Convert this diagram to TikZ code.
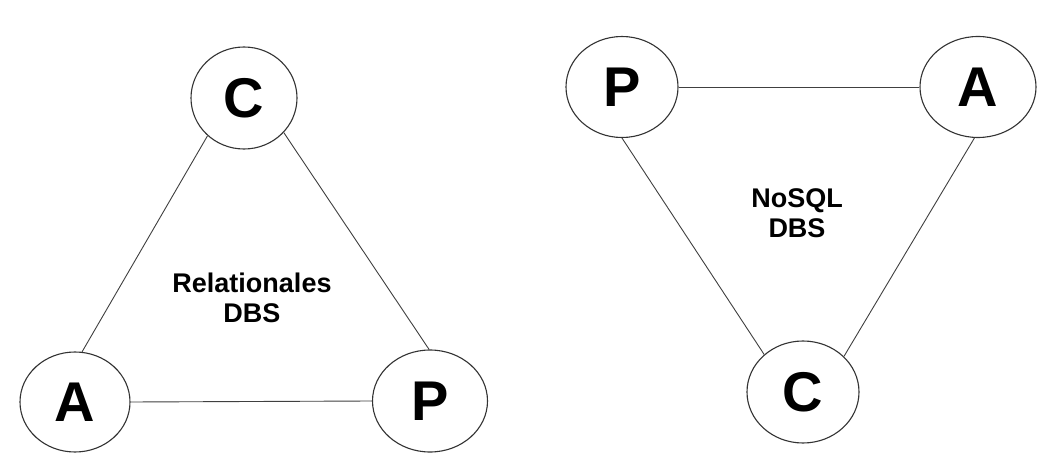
\documentclass[tikz,border=0pt]{standalone}
\usepackage{fontspec}
\setmainfont{Liberation Sans}
\usetikzlibrary{shapes.geometric}
\begin{document}
\begin{tikzpicture}[x=1pt,y=1pt,
  letter/.style={ellipse,draw=black!80,line width=1.1pt,fill=white,inner sep=0pt,
    minimum width=112pt,minimum height=101pt,font=\fontsize{56}{60}\selectfont\bfseries},
  edge/.style={draw=black!75,line width=0.9pt},
  label/.style={align=center,font=\fontsize{27}{30}\selectfont\bfseries}]
\useasboundingbox[fill=white] (0,0) rectangle (1042,-457);
% left triangle
\node[letter,minimum width=106pt,minimum height=102pt] (c1) at (244,-98) {C};
\node[letter,minimum width=110pt,minimum height=100pt] (a1) at (75,-402) {A};
\node[letter,minimum width=115pt,minimum height=102pt] (p1) at (430,-401) {P};
\node[label] (t1) at (252,-298) {Relationales\\DBS};
\draw[edge] (c1.226) -- (a1.82);
\draw[edge] (c1.319) -- (p1.91);
\draw[edge] (a1.east) -- (p1.west);
% right triangle
\node[letter] (p2) at (622,-87) {P};
\node[letter,minimum width=116pt] (a2) at (978,-87) {A};
\node[letter,minimum height=102pt] (c2) at (803,-392) {C};
\node[label] (t2) at (797,-213) {NoSQL\\DBS};
\draw[edge] (p2.east) -- (a2.west);
\draw[edge] (p2.270) -- (c2.136);
\draw[edge] (a2.266) -- (c2.41);
\end{tikzpicture}
\end{document}
